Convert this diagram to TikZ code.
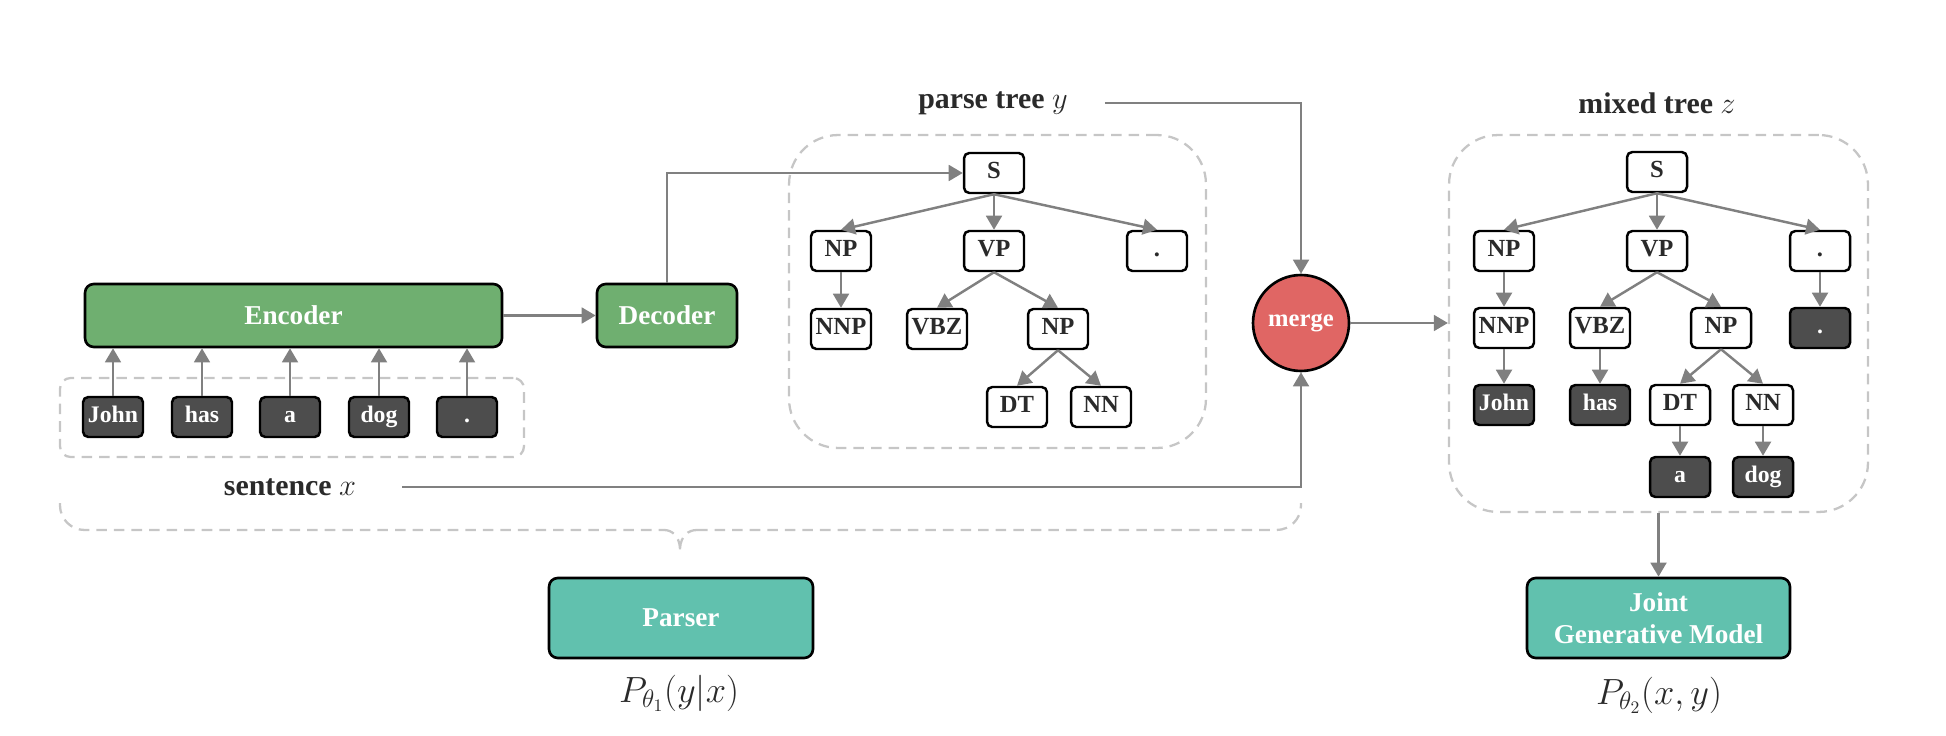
\documentclass[tikz,border=0pt]{standalone}
\usepackage{fontspec}
\setmainfont{Liberation Serif}
\usetikzlibrary{arrows.meta}
\definecolor{encgreen}{HTML}{6FAF70}
\definecolor{tealc}{HTML}{61C1AE}
\definecolor{mergered}{HTML}{E06664}
\definecolor{darkbox}{HTML}{4D4D4D}
\definecolor{linegray}{HTML}{808080}
\definecolor{dashgray}{HTML}{C6C6C6}
\definecolor{txtdark}{HTML}{2A2A2A}
\tikzset{
  tnode/.style={draw=black, line width=1.4pt, rounded corners=3pt, fill=white,
    minimum width=1.2cm, minimum height=0.8cm, inner sep=0pt, text height=9.5pt, text depth=3pt,
    font=\fontsize{14}{14}\selectfont\bfseries, text=txtdark},
  wnode/.style={tnode, fill=darkbox, text=white, font=\fontsize{13.5}{14}\selectfont\bfseries},
  arr/.style={draw=linegray, line width=1.4pt, -{Triangle[length=8pt,width=9pt]}},
  dbox/.style={draw=dashgray, line width=1.3pt, dash pattern=on 6pt off 4pt},
  bigbox/.style={draw=black, line width=1.5pt, rounded corners=5pt, text=white, inner sep=0pt,
    font=\fontsize{15.5}{18}\selectfont\bfseries},
  lbl/.style={text=txtdark, font=\fontsize{17}{17}\selectfont\bfseries, inner sep=0pt},
  plbl/.style={text=txtdark, font=\fontsize{20}{20}\selectfont, inner sep=0pt}
}
\begin{document}
\begin{tikzpicture}[x=0.02cm, y=-0.02cm]
\useasboundingbox (0,0) rectangle (1946,736);

% containers
\node[dbox, rounded corners=6pt, minimum width=9.28cm, minimum height=1.58cm] (wbox) at (292,417.5) {};
\node[dbox, rounded corners=28pt, minimum width=8.34cm, minimum height=6.26cm] (pbox) at (997.5,291.5) {};
\node[dbox, rounded corners=28pt, minimum width=8.38cm, minimum height=7.54cm] (mbox) at (1658.5,323.5) {};

% encoder / decoder
\node[bigbox, fill=encgreen, minimum width=8.34cm, minimum height=1.26cm] (enc) at (293.5,315.5) {Encoder};
\node[bigbox, fill=encgreen, minimum width=2.8cm, minimum height=1.26cm] (dec) at (667,315.5) {Decoder};

% words
\node[wnode] (w1) at (113,417) {John};
\node[wnode] (w2) at (202,417) {has};
\node[wnode] (w3) at (290,417) {a};
\node[wnode] (w4) at (379,417) {dog};
\node[wnode] (w5) at (467,417) {.};

\foreach \w in {w1,w2,w3,w4,w5}
  \draw[arr] (\w.north) -- (\w.north |- enc.south);
\draw[arr] (enc.east) -- (dec.west);

% labels
\node[lbl] (slabel) at (290,487) {sentence $x$};
\node[lbl] (plabel) at (993,103) {parse tree $y$};
\node[lbl] (mlabel) at (1657,103) {mixed tree $z$};

% parse tree
\node[tnode] (pS) at (994,173) {S};
\node[tnode] (pNP) at (841,251) {NP};
\node[tnode] (pVP) at (994,251) {VP};
\node[tnode] (pDot) at (1157,251) {.};
\node[tnode] (pNNP) at (841,329) {NNP};
\node[tnode] (pVBZ) at (937,329) {VBZ};
\node[tnode] (pNP2) at (1058,329) {NP};
\node[tnode] (pDT) at (1017,407) {DT};
\node[tnode] (pNN) at (1101,407) {NN};
\draw[arr] (pS.south) -- (pNP.north);
\draw[arr] (pS.south) -- (pVP.north);
\draw[arr] (pS.south) -- (pDot.north);
\draw[arr] (pNP.south) -- (pNNP.north);
\draw[arr] (pVP.south) -- (pVBZ.north);
\draw[arr] (pVP.south) -- (pNP2.north);
\draw[arr] (pNP2.south) -- (pDT.north);
\draw[arr] (pNP2.south) -- (pNN.north);

\draw[arr] (dec.north) |- (pS.west);

% merge
\node[circle, draw=black, line width=1.5pt, fill=mergered, minimum size=1.92cm, inner sep=0pt,
  text=white, font=\fontsize{14}{14}\selectfont\bfseries] (merge) at (1301,323) {merge};
\draw[arr, shorten <=21pt] (plabel.east) -| (merge.north);
\draw[arr, shorten <=26pt] (slabel.east) -| (merge.south);
\draw[arr] (merge.east) -- (merge -| mbox.west);

% mixed tree
\node[tnode] (mS) at (1657,172) {S};
\node[tnode] (mNP) at (1504,251) {NP};
\node[tnode] (mVP) at (1657,251) {VP};
\node[tnode] (mDot) at (1820,251) {.};
\node[tnode] (mNNP) at (1504,328) {NNP};
\node[tnode] (mVBZ) at (1600,328) {VBZ};
\node[tnode] (mNP2) at (1721,328) {NP};
\node[wnode] (mdDot) at (1820,328) {.};
\node[wnode] (mJohn) at (1504,405) {John};
\node[wnode] (mHas) at (1600,405) {has};
\node[tnode] (mDT) at (1680,405) {DT};
\node[tnode] (mNN) at (1763,405) {NN};
\node[wnode] (mA) at (1680,477) {a};
\node[wnode] (mDog) at (1763,477) {dog};
\draw[arr] (mS.south) -- (mNP.north);
\draw[arr] (mS.south) -- (mVP.north);
\draw[arr] (mS.south) -- (mDot.north);
\draw[arr] (mNP.south) -- (mNNP.north);
\draw[arr] (mVP.south) -- (mVBZ.north);
\draw[arr] (mVP.south) -- (mNP2.north);
\draw[arr] (mDot.south) -- (mdDot.north);
\draw[arr] (mNNP.south) -- (mJohn.north);
\draw[arr] (mVBZ.south) -- (mHas.north);
\draw[arr] (mNP2.south) -- (mDT.north);
\draw[arr] (mNP2.south) -- (mNN.north);
\draw[arr] (mDT.south) -- (mA.north);
\draw[arr] (mNN.south) -- (mDog.north);

% brace
\draw[dbox, rounded corners=14pt] (60,503) -- (60,530) -- (664,530);
\draw[dbox] (664,530) .. controls (672,530) and (679,536) .. (680,548) -- (680,556);
\draw[dbox] (680,548) .. controls (681,536) and (688,530) .. (697,530);
\draw[dbox, rounded corners=14pt] (697,530) -- (1301,530) -- (1301,503);

% parser / joint
\node[bigbox, fill=tealc, minimum width=5.28cm, minimum height=1.6cm] (parser) at (681,618) {Parser};
\node[bigbox, fill=tealc, minimum width=5.26cm, minimum height=1.6cm, align=center] (joint) at (1658.5,618) {Joint\\Generative Model};
\draw[arr] (mbox.south) -- (joint.north);

\node[plbl] (p1) at (679,693) {$P_{\theta_1}(y|x)$};
\node[plbl] (p2) at (1659,695) {$P_{\theta_2}(x,y)$};
\end{tikzpicture}
\end{document}
